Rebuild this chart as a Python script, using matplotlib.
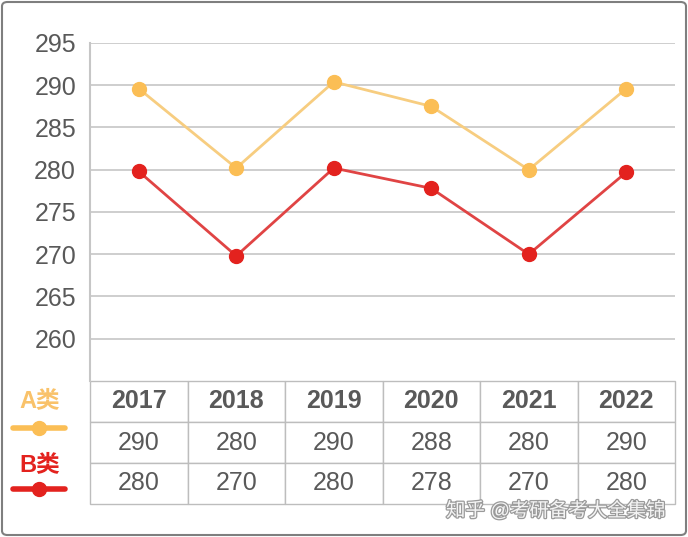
import matplotlib
matplotlib.use("Agg")
import matplotlib.pyplot as plt
from matplotlib.patches import FancyBboxPatch
from matplotlib.lines import Line2D
import matplotlib.patheffects as pe

plt.rcParams['font.family'] = ['Liberation Sans', 'Noto Sans CJK SC', 'DejaVu Sans']

# 数据
years = ['2017', '2018', '2019', '2020', '2021', '2022']
a_values = [289.6, 280.2, 290.4, 287.5, 280.0, 289.6]
b_values = [279.8, 269.8, 280.2, 277.8, 270.0, 279.7]
a_labels = ['290', '280', '290', '288', '280', '290']
b_labels = ['280', '270', '280', '278', '270', '280']
y_ticks = [260, 265, 270, 275, 280, 285, 290, 295]

a_line, a_dot = '#F7CD80', '#FBBE55'
b_line, b_dot = '#E04444', '#E3221E'
txt = '#595959'
grid_c = '#C6C6C6'

fig = plt.figure(figsize=(6.88, 5.37), dpi=100)
ax = fig.add_axes([90/688, 1-381/537, 585/688, 338/537])

x = list(range(len(years)))
ax.plot(x, a_values, color=a_line, lw=2, marker='o', ms=10,
        mfc=a_dot, mec=a_dot, zorder=3)
ax.plot(x, b_values, color=b_line, lw=2, marker='o', ms=10,
        mfc=b_dot, mec=b_dot, zorder=3)

ax.set_xlim(-0.5, len(years) - 0.5)
ax.set_ylim(255, 295)
ax.set_yticks(y_ticks)
ax.set_yticklabels([str(t) for t in y_ticks], fontsize=18, color=txt)
ax.set_xticks([])
ax.tick_params(axis='y', length=0, pad=10)
ax.grid(axis='y', color=grid_c, lw=1.2)
for s in ['top', 'right', 'bottom']:
    ax.spines[s].set_visible(False)
ax.spines['left'].set_color(grid_c)
ax.spines['left'].set_linewidth(1.5)

# 数据表
tab = ax.table(cellText=[a_labels, b_labels], colLabels=years,
               cellLoc='center', bbox=[0, -123/338, 1, 123/338])
tab.auto_set_font_size(False)
tab.set_fontsize(18)
for (r, c), cell in tab.get_celld().items():
    cell.set_edgecolor('#BDBDBD')
    cell.set_linewidth(1.0)
    cell.get_text().set_color(txt)
    if r == 0:
        cell.get_text().set_fontweight('bold')

# 图例
fig.text(40/688, 1-401/537, 'A类', color='#F9C26A', fontsize=17,
         fontweight='bold', ha='center', va='center')
fig.text(40/688, 1-465/537, 'B类', color='#E3221E', fontsize=17,
         fontweight='bold', ha='center', va='center')
fig.add_artist(Line2D([13/688, 65/688], [1-428/537, 1-428/537], color=a_dot,
                      lw=4, solid_capstyle='round'))
fig.add_artist(Line2D([39/688], [1-428/537], color=a_dot, marker='o', ms=10))
fig.add_artist(Line2D([13/688, 65/688], [1-489/537, 1-489/537], color=b_dot,
                      lw=4, solid_capstyle='round'))
fig.add_artist(Line2D([39/688], [1-489/537], color=b_dot, marker='o', ms=10))

# 水印
fig.text(556/688, 1-511/537, '知乎 @考研备考大全集锦', fontsize=14,
         color='#F4F4F4', ha='center', va='center',
         path_effects=[pe.withStroke(linewidth=1.8, foreground='#9A9A9A')])

# 外框
fig.add_artist(FancyBboxPatch((2/688, 2/537), 684/688, 533/537,
                              boxstyle='round,pad=0,rounding_size=0.008',
                              transform=fig.transFigure, fill=False,
                              ec='#7F7F7F', lw=1.5))

fig.savefig('out.png', dpi=100)
